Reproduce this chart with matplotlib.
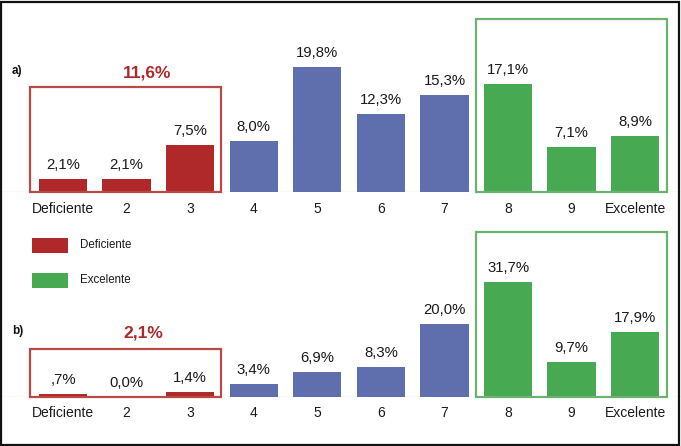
import matplotlib
matplotlib.use("Agg")
import matplotlib.pyplot as plt
from matplotlib.patches import Rectangle

plt.rcParams['font.family'] = ['Liberation Sans', 'DejaVu Sans']

categories = ["Deficiente", "2", "3", "4", "5", "6", "7", "8", "9", "Excelente"]
values_a = [2.1, 2.1, 7.5, 8.0, 19.8, 12.3, 15.3, 17.1, 7.1, 8.9]
values_b = [0.7, 0.0, 1.4, 3.4, 6.9, 8.3, 20.0, 31.7, 9.7, 17.9]
labels_a = ["2,1%", "2,1%", "7,5%", "8,0%", "19,8%", "12,3%", "15,3%", "17,1%", "7,1%", "8,9%"]
labels_b = [",7%", "0,0%", "1,4%", "3,4%", "6,9%", "8,3%", "20,0%", "31,7%", "9,7%", "17,9%"]
group_totals = ["11,6%", "2,1%"]
panel_names = ["a)", "b)"]
legend_labels = ["Deficiente", "Excelente"]

RED = "#B0292A"
BLUE = "#5F6FAE"
GREEN = "#47A952"
RED_EDGE = "#B84A45"
GREEN_EDGE = "#6DB36F"

W, H = 681, 446
fig = plt.figure(figsize=(W / 100, H / 100), dpi=100)
fig.patch.set_facecolor("white")

x0, dx = 63.0, 63.58
xlim = (-x0 / dx, (W - x0) / dx)

colors = [RED] * 3 + [BLUE] * 4 + [GREEN] * 3

def make_panel(base_px, px_per, top_px, values, labels, red_top, green_top, total, name, total_xy):
    bottom = (H - base_px) / H
    height = (base_px - top_px) / H
    ax = fig.add_axes([0, bottom, 1, height])
    ax.set_xlim(*xlim)
    ax.set_ylim(0, (base_px - top_px) / px_per)
    ax.patch.set_alpha(0)
    for s in ax.spines.values():
        s.set_visible(False)
    ax.set_yticks([])
    x = list(range(len(categories)))
    ax.bar(x, values, width=0.76, color=colors, zorder=2)
    ax.axhline(0, color="#E4E4E4", lw=1, zorder=1)
    for xi, v, lab in zip(x, values, labels):
        ax.annotate(lab, (xi, v), xytext=(0, 5), textcoords="offset points",
                    ha="center", va="bottom", fontsize=10.7, color="#1a1a1a")
    ax.set_xticks(x)
    ax.set_xticklabels(categories, fontsize=10, color="#1a1a1a")
    ax.tick_params(axis="x", length=0, pad=7)
    ax.add_patch(Rectangle((-0.52, 0), 3.0, red_top, fill=False, edgecolor=RED_EDGE, lw=1.6, zorder=3, clip_on=False))
    ax.add_patch(Rectangle((6.5, 0), 3.0, green_top, fill=False, edgecolor=GREEN_EDGE, lw=1.6, zorder=3, clip_on=False))
    fig.text(total_xy[0] / W, 1 - total_xy[1] / H, total, ha="center", va="center",
             fontsize=12.5, fontweight="bold", color=RED)
    fig.text(12 / W, 1 - (total_xy[1] - 2) / H, name, ha="left", va="center",
             fontsize=8.5, fontweight="bold", color="#111111")
    return ax

make_panel(192, 6.33, 8, values_a, labels_a, 16.6, 27.3, group_totals[0], panel_names[0], (147, 73))
make_panel(396.7, 3.62, 222, values_b, labels_b, 13.1, 45.6, group_totals[1], panel_names[1], (143, 333))

# legend
for (lab, col, ytop) in zip(legend_labels, [RED, GREEN], [238, 273]):
    fig.patches.append(Rectangle((32 / W, 1 - (ytop + 15) / H), 36 / W, 15 / H,
                                 transform=fig.transFigure, facecolor=col, edgecolor="none"))
    fig.text(80 / W, 1 - (ytop + 7) / H, lab, ha="left", va="center", fontsize=8.3, color="#1a1a1a")

fig.patches.append(Rectangle((0.5 / W, 1.5 / H), (W - 2.5) / W, (H - 3) / H, transform=fig.transFigure,
                             fill=False, edgecolor="#111111", lw=1.6))

fig.savefig("out.png", dpi=100)
